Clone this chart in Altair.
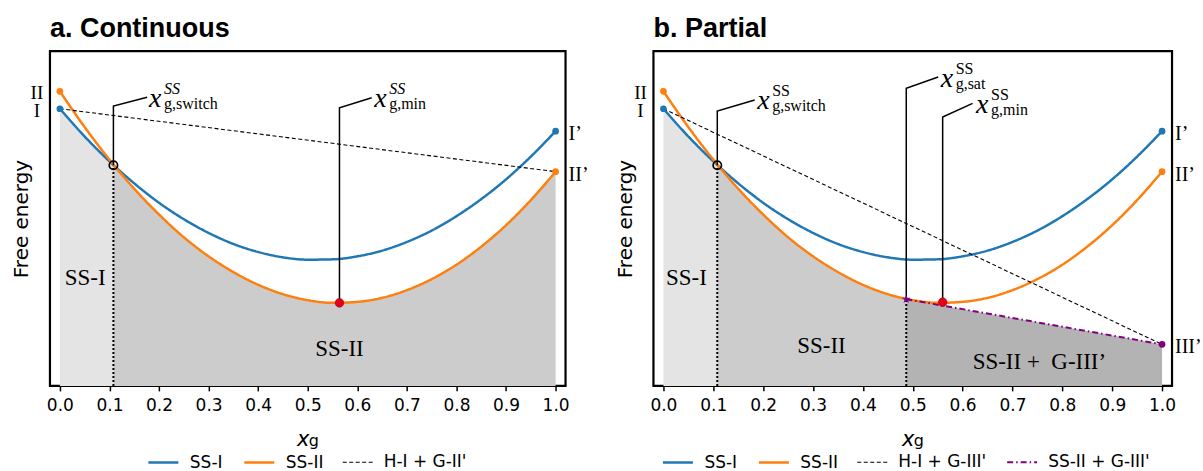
import altair as alt
import pandas as pd

# ---------------- data ----------------
X_CURVE = [0.0, 0.05, 0.1, 0.15, 0.2, 0.25, 0.3, 0.35, 0.4, 0.45, 0.5,
           0.55, 0.6, 0.65, 0.7, 0.75, 0.8, 0.85, 0.9, 0.95, 1.0]
SS_I = [0.828, 0.745, 0.671, 0.605, 0.547, 0.498, 0.457, 0.424, 0.400, 0.384, 0.377,
        0.378, 0.387, 0.404, 0.430, 0.464, 0.507, 0.558, 0.617, 0.685, 0.761]
SS_II = [0.880, 0.773, 0.676, 0.589, 0.512, 0.444, 0.387, 0.340, 0.302, 0.274, 0.256,
         0.248, 0.251, 0.263, 0.286, 0.319, 0.362, 0.416, 0.480, 0.555, 0.640]

I_START, II_START = 0.828, 0.880
I_END, II_END, III_END = 0.761, 0.640, 0.124
SWITCH_X, SWITCH_Y = 0.108, 0.659
MIN_X_A, MIN_Y_A = 0.564, 0.248
MIN_X_B, MIN_Y_B = 0.560, 0.250
SAT_X, SAT_Y = 0.487, 0.259

X_TICKS = [0.0, 0.1, 0.2, 0.3, 0.4, 0.5, 0.6, 0.7, 0.8, 0.9, 1.0]

BLUE, ORANGE, PURPLE, RED = "#1f77b4", "#ff7f0e", "#800080", "#e3001b"
LIGHT, MID, DARK = "#e4e4e4", "#cccccc", "#b3b3b3"

H = 335
XDOM = [-0.02, 1.02]
STAR = ("M0,-1L0.2245,-0.309L0.951,-0.309L0.363,0.118L0.588,0.809L0,0.382"
        "L-0.588,0.809L-0.363,0.118L-0.951,-0.309L-0.2245,-0.309Z")

xscale = alt.Scale(domain=XDOM, nice=False, zero=False)
yscale = alt.Scale(domain=[0, 1], nice=False, zero=False)


def make_xaxis(w):
    return alt.Axis(values=X_TICKS, format=".1f", title="x", titleFontStyle="italic",
                    titleFont="DejaVu Sans", titleFontSize=21, titleFontWeight="normal",
                    titlePadding=15, titleX=w / 2 - 5, titleColor="black",
                    labelFont="DejaVu Sans", labelFontSize=17, labelColor="black",
                    tickColor="black", tickSize=5, tickWidth=1.5, domain=False, grid=False,
                    labelPadding=7, labelFlush=False)


yaxis = alt.Axis(title="Free energy", titleFont="DejaVu Sans", titleFontSize=20,
                 titleFontWeight="normal", titleColor="black", titlePadding=18,
                 labels=False, ticks=False, domain=False, grid=False)


def curve_rows(series, xs, ys):
    return [{"series": series, "x": a, "y": b} for a, b in zip(xs, ys)]


def panel(which, w, legend_x):
    partial = which == "b"
    xaxis = make_xaxis(w)

    def X():
        return alt.X("x:Q", scale=xscale, axis=xaxis)

    def Y():
        return alt.Y("y:Q", scale=yscale, axis=yaxis, stack=None)

    def area_layer(pts, fill):
        df = pd.DataFrame([{"x": a, "y": b} for a, b in pts])
        return alt.Chart(df).mark_area(interpolate="monotone", color=fill, opacity=1).encode(
            x=X(), y=Y())

    layers = []
    # ---- shaded regions ----
    r1 = [(a, b) for a, b in zip(X_CURVE, SS_I) if a < SWITCH_X] + [(SWITCH_X, SWITCH_Y)]
    layers.append(area_layer(r1, LIGHT))
    if not partial:
        r2 = [(SWITCH_X, SWITCH_Y)] + [(a, b) for a, b in zip(X_CURVE, SS_II) if a > SWITCH_X]
        layers.append(area_layer(r2, MID))
    else:
        r2 = ([(SWITCH_X, SWITCH_Y)] +
              [(a, b) for a, b in zip(X_CURVE, SS_II) if SWITCH_X < a < SAT_X] +
              [(SAT_X, SAT_Y)])
        layers.append(area_layer(r2, MID))
        layers.append(area_layer([(SAT_X, SAT_Y), (1.0, III_END)], DARK))

    # ---- dotted verticals ----
    rules = [{"x": SWITCH_X, "y": 0.0, "y2": SWITCH_Y}]
    if partial:
        rules.append({"x": SAT_X, "y": 0.0, "y2": SAT_Y})
    layers.append(alt.Chart(pd.DataFrame(rules)).mark_rule(
        color="black", strokeWidth=2, strokeDash=[2, 2]).encode(x=X(), y=Y(), y2="y2:Q"))

    # ---- curves and tie lines ----
    rows = curve_rows("SS-I", X_CURVE, SS_I) + curve_rows("SS-II", X_CURVE, SS_II)
    if not partial:
        tie = "H-I + G-II'"
        rows += curve_rows(tie, [0.0, 1.0], [I_START, II_END])
        dom = ["SS-I", "SS-II", tie]
        cols = [BLUE, ORANGE, "black"]
        dashes = [[1, 0], [1, 0], [4, 2.5]]
        widths = [2.5, 2.5, 1.1]
    else:
        tie = "H-I + G-III'"
        tan = "SS-II + G-III'"
        rows += curve_rows(tie, [0.0, 1.0], [I_START, III_END])
        rows += curve_rows(tan, [SAT_X, 1.0], [SAT_Y, III_END])
        dom = ["SS-I", "SS-II", tie, tan]
        cols = [BLUE, ORANGE, "black", PURPLE]
        dashes = [[1, 0], [1, 0], [4, 2.5], [6, 3, 1.5, 3]]
        widths = [2.5, 2.5, 1.1, 2]
    leg = alt.Legend(title=None, orient="none", legendX=legend_x, legendY=H + 60,
                     direction="horizontal",
                     symbolType="stroke", symbolSize=900, labelFontSize=17,
                     labelFont="DejaVu Sans", labelColor="black", columnPadding=16,
                     labelOffset=10, padding=0, labelLimit=300)
    layers.append(alt.Chart(pd.DataFrame(rows)).mark_line(interpolate="monotone").encode(
        x=X(), y=Y(),
        color=alt.Color("series:N", scale=alt.Scale(domain=dom, range=cols), legend=leg),
        strokeDash=alt.StrokeDash("series:N", scale=alt.Scale(domain=dom, range=dashes), legend=leg),
        strokeWidth=alt.StrokeWidth("series:N",
                                    scale=alt.Scale(type="ordinal", domain=dom, range=widths),
                                    legend=leg),
    ))

    # ---- leader lines ----
    if not partial:
        leaders = [("sw", [(SWITCH_X, SWITCH_Y), (SWITCH_X, 0.836), (0.176, 0.862)]),
                   ("mn", [(MIN_X_A, MIN_Y_A), (MIN_X_A, 0.831), (0.629, 0.861)])]
        labels = [(0.180, 0.834, "g,switch"), (0.634, 0.834, "g,min")]
    else:
        leaders = [("sw", [(SWITCH_X, SWITCH_Y), (SWITCH_X, 0.821), (0.183, 0.854)]),
                   ("st", [(SAT_X, SAT_Y), (SAT_X, 0.889), (0.551, 0.923)]),
                   ("mn", [(MIN_X_B, MIN_Y_B), (MIN_X_B, 0.803), (0.620, 0.844)])]
        labels = [(0.188, 0.826, "g,switch"), (0.556, 0.893, "g,sat"), (0.627, 0.815, "g,min")]
    lrows = []
    for name, pts in leaders:
        for i, (a, b) in enumerate(pts):
            lrows.append({"ann": name, "o": i, "x": a, "y": b})
    layers.append(alt.Chart(pd.DataFrame(lrows)).mark_line(color="black", strokeWidth=1.5).encode(
        x=X(), y=Y(), detail="ann:N", order="o:Q"))

    # ---- end points ----
    ends = [{"x": 0.0, "y": I_START, "c": BLUE}, {"x": 0.0, "y": II_START, "c": ORANGE},
            {"x": 1.0, "y": I_END, "c": BLUE}, {"x": 1.0, "y": II_END, "c": ORANGE}]
    if partial:
        ends.append({"x": 1.0, "y": III_END, "c": PURPLE})
    layers.append(alt.Chart(pd.DataFrame(ends)).mark_circle(size=45, opacity=1).encode(
        x=X(), y=Y(), fill=alt.Fill("c:N", scale=None)))

    layers.append(alt.Chart(pd.DataFrame([{"x": SWITCH_X, "y": SWITCH_Y}])).mark_point(
        shape="circle", filled=False, color="black", strokeWidth=1.7, size=70, opacity=1
    ).encode(x=X(), y=Y()))
    mx, my = (MIN_X_A, MIN_Y_A) if not partial else (MIN_X_B, MIN_Y_B)
    layers.append(alt.Chart(pd.DataFrame([{"x": mx, "y": my}])).mark_circle(
        size=75, color=RED, opacity=1, stroke="#a00000", strokeWidth=0.6).encode(x=X(), y=Y()))
    if partial:
        layers.append(alt.Chart(pd.DataFrame([{"x": SAT_X, "y": SAT_Y}])).mark_point(
            shape=STAR, filled=True, color=PURPLE, size=90, opacity=1).encode(x=X(), y=Y()))

    # ---- leader labels (x with super/subscripts) ----
    ldf = pd.DataFrame([{"x": a, "y": b, "sub": s} for a, b, s in labels])
    serif = "Liberation Serif"
    layers.append(alt.Chart(ldf).mark_text(
        text="x", font=serif, fontStyle="italic", fontSize=28, align="left",
        baseline="alphabetic", color="black").encode(x=X(), y=Y()))
    layers.append(alt.Chart(ldf).mark_text(
        text="SS", font=serif, fontStyle="italic" if not partial else "normal", fontSize=16,
        align="left", baseline="alphabetic", dx=15, dy=-13, color="black").encode(x=X(), y=Y()))
    layers.append(alt.Chart(ldf).mark_text(
        font=serif, fontSize=16, align="left", baseline="alphabetic", dx=15, dy=2,
        color="black").encode(x=X(), y=Y(), text="sub:N"))

    # ---- roman numeral end labels ----
    left_lab = pd.DataFrame([{"x": 0.0, "y": II_START, "t": "II"}, {"x": 0.0, "y": I_START, "t": "I"}])
    layers.append(alt.Chart(left_lab).mark_text(
        font=serif, fontSize=19, align="center", baseline="middle", dx=-23, dy=2,
        color="black").encode(x=X(), y=Y(), text="t:N"))
    right_rows = [{"x": 1.0, "y": I_END, "t": "I\u2019"}, {"x": 1.0, "y": II_END, "t": "II\u2019"}]
    if partial:
        right_rows.append({"x": 1.0, "y": III_END, "t": "III\u2019"})
    layers.append(alt.Chart(pd.DataFrame(right_rows)).mark_text(
        font=serif, fontSize=20, align="left", baseline="middle", dx=13, dy=3,
        color="black").encode(x=X(), y=Y(), text="t:N"))

    # ---- region labels ----
    if not partial:
        regions = [{"x": 0.051, "y": 0.322, "t": "SS-I"}, {"x": 0.564, "y": 0.110, "t": "SS-II"}]
    else:
        regions = [{"x": 0.046, "y": 0.322, "t": "SS-I"}, {"x": 0.317, "y": 0.119, "t": "SS-II"},
                   {"x": 0.754, "y": 0.072, "t": "SS-II +\u00a0 G-III\u2019"}]
    layers.append(alt.Chart(pd.DataFrame(regions)).mark_text(
        font=serif, fontSize=23, align="center", baseline="middle", color="black"
    ).encode(x=X(), y=Y(), text="t:N"))

    # ---- subscript g of the x-axis title ----
    layers.append(alt.Chart(pd.DataFrame([{"x": 0.5}])).mark_text(
        text="g", font="DejaVu Sans", fontSize=16, align="center", baseline="alphabetic",
        dx=6, color="black").encode(x=X(), y=alt.value(H + 60)))

    title = "a. Continuous" if not partial else "b. Partial"
    return alt.layer(*layers).properties(
        width=w, height=H,
        title=alt.TitleParams(title, anchor="start", frame="group", fontSize=27,
                              font="Liberation Sans", fontWeight="bold", color="black",
                              offset=8))


chart = alt.hconcat(panel("a", 516, 97), panel("b", 519, 8), spacing=23).resolve_scale(
    x="independent", y="independent", color="independent",
    strokeDash="independent", strokeWidth="independent"
).resolve_legend(color="independent", strokeDash="independent", strokeWidth="independent"
).configure_view(stroke="black", strokeWidth=2.2
).properties(padding={"left": 10, "top": 13, "right": 0, "bottom": 0})

chart.save("out.html", embed_options={"renderer": "svg", "actions": False})
